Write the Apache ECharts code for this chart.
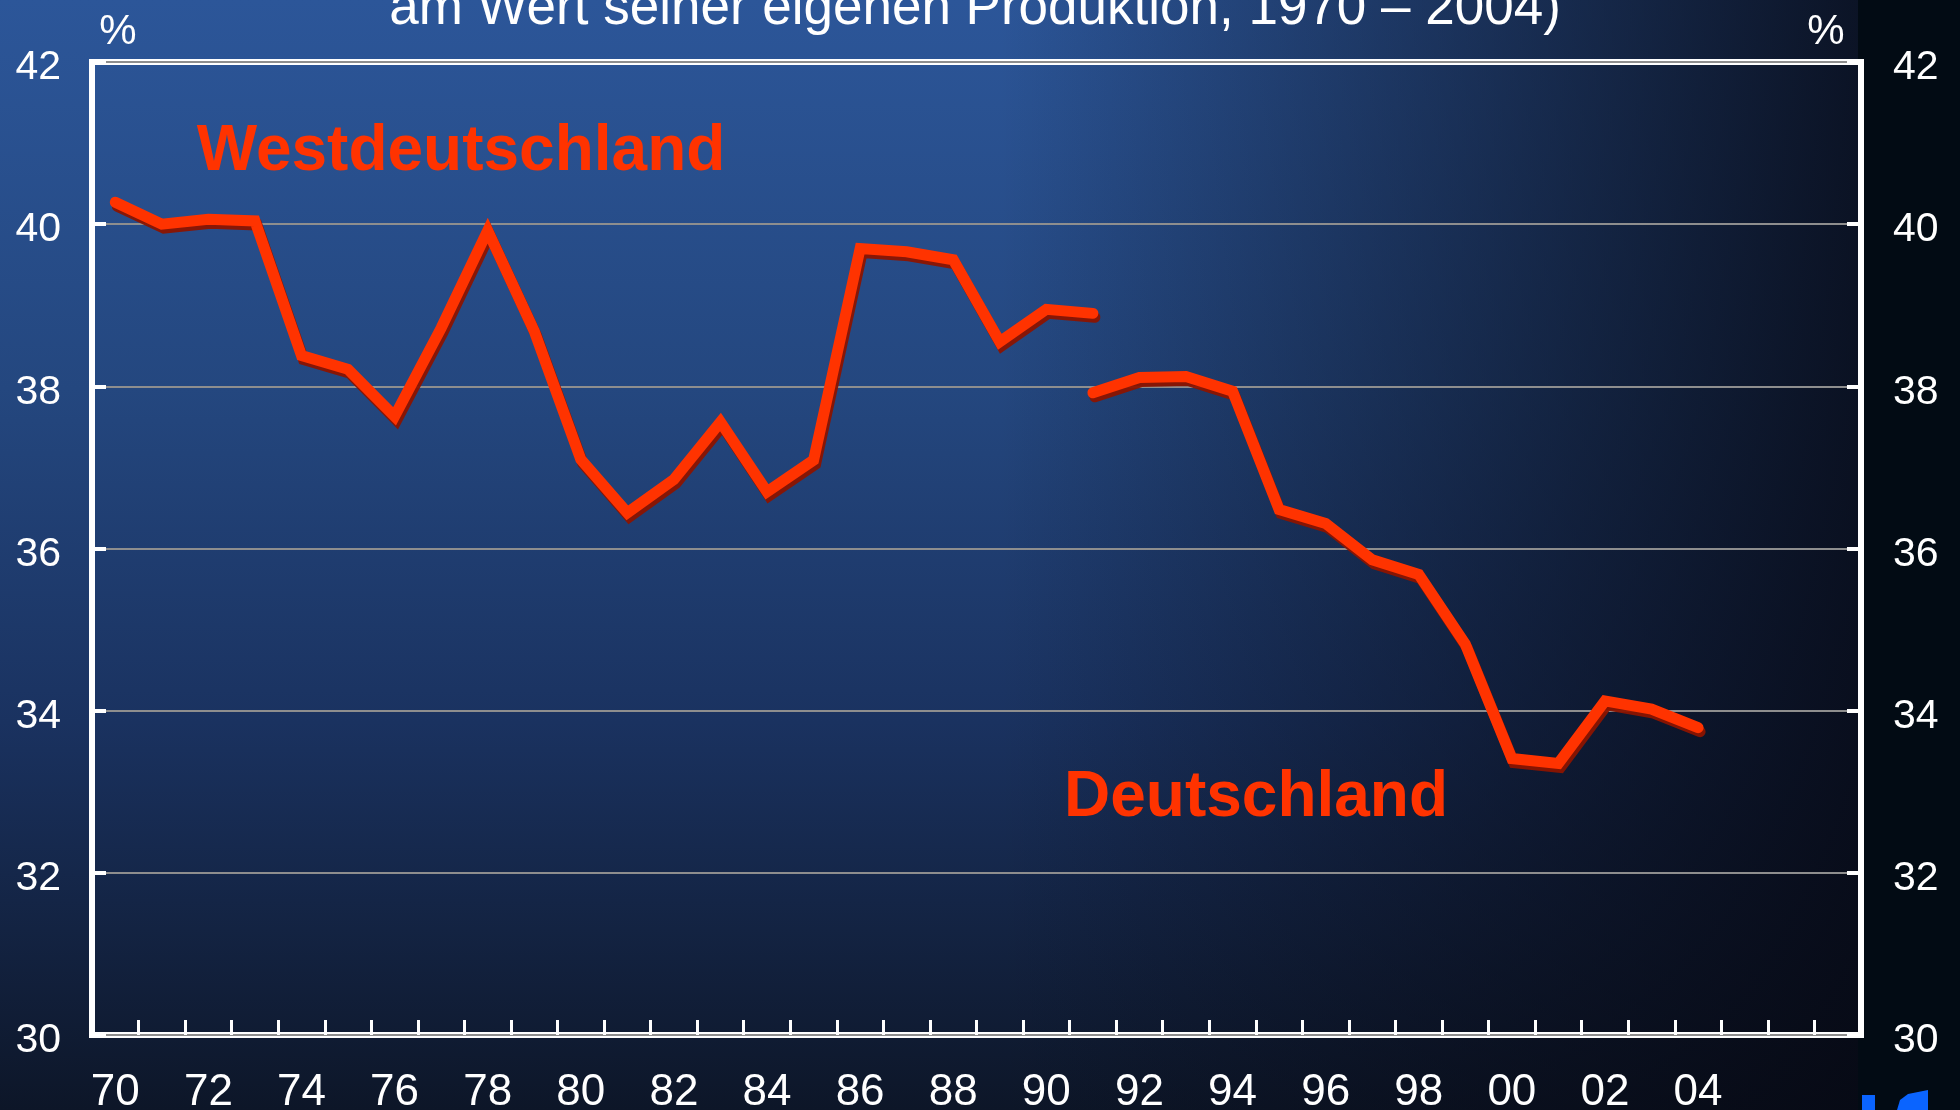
<!DOCTYPE html>
<html>
<head>
<meta charset="utf-8">
<script src="https://cdn.jsdelivr.net/npm/echarts@6/dist/echarts.min.js"></script>
<style>
html,body{margin:0;padding:0;}
#chart{width:1960px;height:1110px;
background:
 linear-gradient(to right, rgba(6,8,18,0) 0px, rgba(6,8,18,0) 1000px, rgba(6,8,18,0.85) 1858px, #020b14 1858px, #020b14 1960px),
 linear-gradient(to bottom, #2c5699 0%, #24477f 35%, #1a3260 65%, #0d1628 100%);}
</style>
</head>
<body>
<div id="chart"></div>
<script>
const years = ['1970','1971','1972','1973','1974','1975','1976','1977','1978','1979',
  '1980','1981','1982','1983','1984','1985','1986','1987','1988','1989',
  '1990','1991','1992','1993','1994','1995','1996','1997','1998','1999',
  '2000','2001','2002','2003','2004','2005','2006','2007'];
const lastLabelYear = 2004;
const westdeutschland = [40.27, 40.00, 40.06, 40.04, 38.38, 38.21, 37.63, 38.72, 39.92, 38.68,
  37.10, 36.44, 36.85, 37.56, 36.70, 37.09, 39.70, 39.66, 39.56, 38.55,
  38.95, 38.90, null, null, null, null, null, null, null, null,
  null, null, null, null, null, null, null, null];
const deutschland = [null, null, null, null, null, null, null, null, null, null,
  null, null, null, null, null, null, null, null, null, null,
  null, 37.92, 38.11, 38.12, 37.94, 36.48, 36.31, 35.86, 35.68, 34.82,
  33.41, 33.35, 34.12, 34.02, 33.79, null, null, null];
const yTicks = {min: 30, max: 42, interval: 2};
const titleText = 'am Wert seiner eigenen Produktion, 1970 – 2004)';

const FONT = '"Liberation Sans", Arial, sans-serif';
const chart = echarts.init(document.getElementById('chart'), null, {renderer: 'canvas'});

const lineStyle = {
  color: '#ff3300', width: 11, cap: 'round', join: 'miter',
  shadowColor: 'rgba(140,20,0,0.95)', shadowOffsetX: 2, shadowOffsetY: 4, shadowBlur: 0
};

const yAxisBase = {
  type: 'value', min: yTicks.min, max: yTicks.max, interval: yTicks.interval,
  axisLine: {show: false},
  axisTick: {show: true, inside: true, length: 14, lineStyle: {color: '#ffffff', width: 4}},
  axisLabel: {color: '#ffffff', fontSize: 41, fontFamily: FONT, margin: 31,
    verticalAlign: 'top', lineHeight: 12}
};

chart.setOption({
  backgroundColor: 'transparent',
  animation: false,
  grid: {left: 92, right: 99, top: 62, bottom: 75, show: true, containLabel: false,
    outerBoundsMode: 'none',
    borderColor: '#ffffff', borderWidth: 6, backgroundColor: 'transparent'},
  xAxis: {
    type: 'category', data: years, boundaryGap: true,
    axisLine: {show: false},
    axisTick: {show: true, inside: true, length: 15, interval: 0, lineStyle: {color: '#ffffff', width: 3}},
    axisLabel: {
      color: '#ffffff', fontSize: 44, fontFamily: FONT, margin: 36, interval: 1,
      formatter: function (v) { return (+v <= lastLabelYear) ? v.slice(2) : ''; }
    },
    splitLine: {show: false}
  },
  yAxis: [
    Object.assign({}, yAxisBase, {position: 'left',
      splitLine: {show: true, lineStyle: {color: '#8e8e8e', width: 2}}}),
    Object.assign({}, yAxisBase, {position: 'right', splitLine: {show: false},
      axisLabel: {color: '#ffffff', fontSize: 41, fontFamily: FONT, margin: 32,
        verticalAlign: 'top', lineHeight: 12}})
  ],
  series: [
    {name: 'Westdeutschland', type: 'line', data: westdeutschland, showSymbol: false,
      connectNulls: false, lineStyle: lineStyle, z: 3},
    {name: 'Deutschland', type: 'line', data: deutschland, showSymbol: false,
      connectNulls: false, lineStyle: lineStyle, z: 3}
  ],
  graphic: [
    {type: 'text', x: 975, y: 9, silent: true,
      style: {text: titleText, fill: '#ffffff', font: '53px ' + FONT, align: 'center', verticalAlign: 'middle'}},
    {type: 'text', x: 118, y: 32, silent: true,
      style: {text: '%', fill: '#ffffff', font: '42px ' + FONT, align: 'center', verticalAlign: 'middle'}},
    {type: 'text', x: 1826, y: 32, silent: true,
      style: {text: '%', fill: '#ffffff', font: '42px ' + FONT, align: 'center', verticalAlign: 'middle'}},
    {type: 'text', x: 461, y: 152, silent: true, z: 10,
      style: {text: 'Westdeutschland', fill: '#ff3300', font: 'bold 64px ' + FONT, align: 'center', verticalAlign: 'middle',
        textShadowColor: '#000000', textShadowOffsetX: 3, textShadowOffsetY: 3, textShadowBlur: 0}},
    {type: 'text', x: 1256, y: 798, silent: true, z: 10,
      style: {text: 'Deutschland', fill: '#ff3300', font: 'bold 64px ' + FONT, align: 'center', verticalAlign: 'middle',
        textShadowColor: '#000000', textShadowOffsetX: 3, textShadowOffsetY: 3, textShadowBlur: 0}},
    {type: 'rect', silent: true, shape: {x: 1862, y: 1095, width: 13, height: 15}, style: {fill: '#0a64ff'}},
    {type: 'polygon', silent: true,
      shape: {points: [[1897, 1110], [1900, 1100], [1908, 1094], [1928, 1090], [1928, 1110]]},
      style: {fill: '#0a64ff'}}
  ]
});
</script>
</body>
</html>
